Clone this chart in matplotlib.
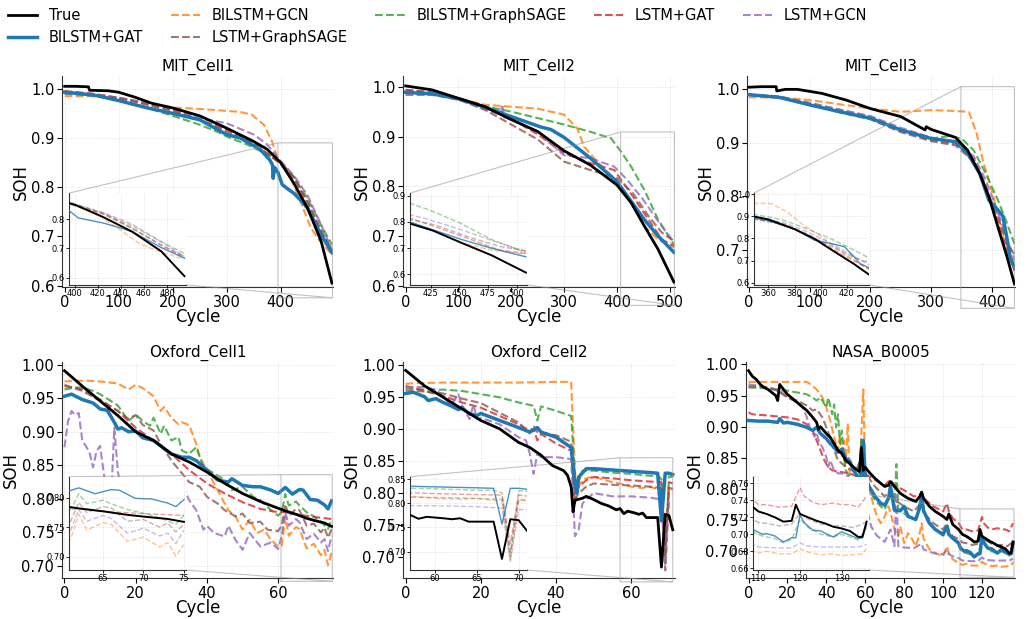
import matplotlib.pyplot as plt
from matplotlib.ticker import MultipleLocator, FormatStrFormatter

# SOH curves, (cycle, SOH) pairs
mit1_true = [(0, 1.005), (20, 1.005), (44, 1.004), (46, 0.997), (80, 0.996), (100, 0.993), (130, 0.983),
             (160, 0.971), (200, 0.961), (250, 0.945), (300, 0.92), (350, 0.893), (375, 0.877), (400, 0.85),
             (425, 0.807), (450, 0.757), (475, 0.69), (495, 0.605)]
mit1_bigat = [(0, 0.993), (30, 0.99), (60, 0.986), (100, 0.976), (150, 0.962), (200, 0.95), (250, 0.937),
              (300, 0.907), (325, 0.9), (362, 0.877), (380, 0.855), (385, 0.845), (386, 0.818), (389, 0.84),
              (395, 0.83), (403, 0.805), (415, 0.795), (425, 0.787), (440, 0.77), (450, 0.757), (475, 0.703),
              (495, 0.667)]
mit1_bigcn = [(0, 0.985), (50, 0.985), (100, 0.981), (150, 0.972), (200, 0.962), (250, 0.959), (300, 0.955),
              (325, 0.953), (347, 0.947), (360, 0.935), (369, 0.927), (384, 0.893), (394, 0.86), (412, 0.837),
              (437, 0.77), (456, 0.717), (475, 0.687), (495, 0.663)]
mit1_bisage = [(0, 0.99), (50, 0.987), (100, 0.978), (150, 0.962), (200, 0.945), (250, 0.927), (284, 0.912),
               (300, 0.903), (337, 0.887), (375, 0.867), (400, 0.85), (425, 0.82), (450, 0.777), (475, 0.723),
               (495, 0.683)]
mit1_lgat = [(0, 0.995), (50, 0.99), (100, 0.982), (150, 0.97), (200, 0.957), (250, 0.937), (300, 0.917),
             (350, 0.89), (400, 0.847), (425, 0.817), (450, 0.77), (475, 0.71), (495, 0.67)]
mit1_lgcn = [(0, 0.99), (50, 0.988), (100, 0.982), (150, 0.972), (200, 0.96), (250, 0.94), (300, 0.93),
             (350, 0.907), (375, 0.887), (400, 0.853), (425, 0.823), (450, 0.783), (475, 0.723), (495, 0.673)]
mit1_lsage = [(0, 0.995), (50, 0.99), (100, 0.981), (150, 0.968), (200, 0.955), (250, 0.937), (300, 0.913),
              (350, 0.887), (400, 0.85), (425, 0.82), (450, 0.767), (475, 0.713), (495, 0.673)]

mit2_true = [(0, 1.003), (50, 0.995), (100, 0.978), (150, 0.961), (200, 0.935), (250, 0.911), (300, 0.872),
             (350, 0.843), (400, 0.803), (427, 0.767), (452, 0.72), (478, 0.673), (508, 0.607)]
mit2_bigat = [(0, 0.99), (50, 0.987), (100, 0.977), (150, 0.96), (200, 0.941), (256, 0.92), (275, 0.915),
              (300, 0.899), (350, 0.857), (400, 0.81), (427, 0.77), (452, 0.733), (478, 0.70), (508, 0.667)]
mit2_bigcn = [(0, 0.985), (50, 0.985), (100, 0.978), (150, 0.965), (200, 0.961), (250, 0.957), (300, 0.945),
              (325, 0.917), (338, 0.88), (357, 0.857), (400, 0.81), (427, 0.767), (452, 0.72), (478, 0.693),
              (508, 0.677)]
mit2_bisage = [(0, 0.99), (50, 0.988), (100, 0.975), (150, 0.962), (200, 0.951), (250, 0.938), (300, 0.925),
               (351, 0.91), (389, 0.897), (408, 0.87), (427, 0.84), (452, 0.793), (478, 0.733), (508, 0.683)]
mit2_lgat = [(0, 0.995), (50, 0.99), (100, 0.978), (150, 0.96), (200, 0.937), (250, 0.905), (300, 0.867),
             (350, 0.847), (395, 0.833), (430, 0.78), (460, 0.733), (485, 0.693), (508, 0.68)]
mit2_lgcn = [(0, 0.985), (50, 0.985), (100, 0.975), (150, 0.955), (180, 0.945), (183, 0.966), (186, 0.94),
             (200, 0.935), (250, 0.91), (300, 0.863), (350, 0.857), (395, 0.84), (420, 0.813), (450, 0.773),
             (480, 0.727), (508, 0.687)]
mit2_lsage = [(0, 0.995), (50, 0.99), (100, 0.977), (150, 0.955), (200, 0.925), (250, 0.895), (300, 0.85),
              (350, 0.833), (400, 0.817), (430, 0.787), (460, 0.74), (485, 0.707), (508, 0.69)]

mit3_true = [(0, 1.004), (20, 1.005), (45, 1.005), (46, 0.997), (60, 1.0), (80, 1.0), (120, 0.9925),
             (160, 0.98), (200, 0.964), (250, 0.949), (290, 0.924), (292, 0.93), (300, 0.925), (320, 0.9175),
             (340, 0.91), (360, 0.886), (380, 0.842), (395, 0.799), (410, 0.742), (425, 0.686), (437, 0.636)]
mit3_bigat = [(0, 0.99), (50, 0.985), (100, 0.971), (150, 0.958), (200, 0.946), (250, 0.924), (300, 0.908),
              (320, 0.905), (340, 0.902), (360, 0.88), (380, 0.8425), (395, 0.7925), (410, 0.774),
              (418, 0.763), (425, 0.72), (430, 0.686), (437, 0.667)]
mit3_bigcn = [(0, 0.985), (50, 0.985), (100, 0.98), (150, 0.972), (200, 0.964), (250, 0.958), (300, 0.961),
              (330, 0.96), (362, 0.958), (375, 0.9175), (385, 0.8675), (400, 0.81), (415, 0.742), (430, 0.686),
              (437, 0.661)]
mit3_bisage = [(0, 0.99), (50, 0.987), (100, 0.974), (150, 0.962), (200, 0.949), (250, 0.924), (300, 0.908),
               (330, 0.9125), (350, 0.908), (370, 0.886), (390, 0.8425), (410, 0.7925), (425, 0.749),
               (437, 0.711)]
mit3_lgat = [(0, 0.99), (50, 0.985), (100, 0.972), (150, 0.958), (200, 0.945), (250, 0.922), (300, 0.905),
             (340, 0.898), (370, 0.87), (390, 0.82), (410, 0.75), (425, 0.70), (437, 0.66)]
mit3_lgcn = [(0, 0.99), (50, 0.986), (100, 0.975), (150, 0.962), (200, 0.95), (250, 0.928), (300, 0.91),
             (340, 0.9), (370, 0.875), (390, 0.83), (410, 0.77), (425, 0.72), (437, 0.68)]
mit3_lsage = [(0, 0.99), (50, 0.985), (100, 0.972), (150, 0.957), (200, 0.944), (250, 0.92), (300, 0.903),
              (340, 0.895), (370, 0.865), (390, 0.815), (410, 0.76), (425, 0.715), (437, 0.69)]

ox1_true = [(0, 0.991), (5, 0.968), (10, 0.946), (15, 0.924), (20, 0.90), (25, 0.887), (30, 0.867),
            (35, 0.855), (40, 0.84), (45, 0.823), (50, 0.808), (55, 0.796), (60, 0.786), (62, 0.782),
            (65, 0.777), (68, 0.771), (70, 0.768), (73, 0.764), (75, 0.759)]
ox1_bigat = [(0, 0.953), (2, 0.956), (5, 0.948), (8, 0.943), (10, 0.934), (12, 0.932), (14, 0.914),
             (15, 0.904), (16, 0.906), (18, 0.90), (20, 0.901), (22, 0.891), (25, 0.887), (28, 0.875),
             (30, 0.867), (33, 0.862), (35, 0.862), (37, 0.857), (40, 0.843), (43, 0.828), (46, 0.825),
             (47, 0.83), (50, 0.82), (53, 0.818), (55, 0.818), (58, 0.813), (60, 0.808), (62, 0.817),
             (64, 0.807), (66, 0.814), (67, 0.813), (69, 0.799), (71, 0.798), (73, 0.791), (74, 0.785),
             (75, 0.797)]
ox1_bigcn = [(0, 0.975), (3, 0.976), (7, 0.976), (10, 0.975), (15, 0.972), (18, 0.963), (20, 0.97),
             (22, 0.965), (25, 0.953), (27, 0.931), (28, 0.937), (30, 0.921), (32, 0.911), (33, 0.914),
             (35, 0.91), (37, 0.882), (38, 0.862), (40, 0.843), (42, 0.823), (44, 0.803), (46, 0.783),
             (48, 0.774), (50, 0.754), (52, 0.769), (54, 0.749), (56, 0.754), (58, 0.739), (60, 0.729),
             (61, 0.73), (62, 0.772), (63, 0.745), (65, 0.758), (66, 0.755), (68, 0.726), (70, 0.733),
             (72, 0.716), (73, 0.724), (74, 0.701), (75, 0.72)]
ox1_bisage = [(0, 0.963), (3, 0.966), (5, 0.966), (8, 0.961), (10, 0.956), (13, 0.946), (15, 0.939),
              (18, 0.916), (20, 0.926), (22, 0.916), (24, 0.909), (25, 0.921), (27, 0.897), (28, 0.909),
              (30, 0.887), (32, 0.892), (33, 0.872), (35, 0.867), (37, 0.877), (39, 0.847), (42, 0.838),
              (45, 0.828), (47, 0.813), (50, 0.818), (53, 0.803), (55, 0.798), (58, 0.783), (60, 0.775),
              (61, 0.78), (62, 0.807), (63, 0.79), (65, 0.796), (66, 0.79), (68, 0.78), (70, 0.774),
              (72, 0.766), (74, 0.755), (75, 0.77)]
ox1_lgat = [(0, 0.968), (5, 0.963), (10, 0.948), (15, 0.931), (20, 0.906), (25, 0.887), (30, 0.867),
            (35, 0.843), (40, 0.823), (45, 0.808), (50, 0.795), (55, 0.785), (60, 0.78), (62, 0.781),
            (65, 0.777), (70, 0.773), (75, 0.77)]
ox1_lgcn = [(0, 0.877), (1, 0.916), (2, 0.931), (3, 0.925), (4, 0.928), (5, 0.887), (7, 0.87), (8, 0.847),
            (9, 0.871), (10, 0.879), (11, 0.84), (12, 0.80), (13, 0.79), (14, 0.906), (15, 0.84), (16, 0.815),
            (20, 0.81), (25, 0.805), (30, 0.80), (34, 0.81), (35, 0.798), (37, 0.783), (39, 0.754), (40, 0.76),
            (42, 0.749), (45, 0.744), (46, 0.76), (48, 0.739), (50, 0.724), (52, 0.749), (55, 0.729),
            (58, 0.735), (60, 0.725), (61, 0.745), (62, 0.78), (63, 0.76), (65, 0.77), (66, 0.765),
            (68, 0.74), (70, 0.748), (72, 0.735), (73, 0.74), (74, 0.722), (75, 0.745)]
ox1_lsage = [(0, 0.97), (5, 0.961), (10, 0.946), (15, 0.931), (18, 0.919), (20, 0.925), (22, 0.91),
             (25, 0.902), (27, 0.882), (30, 0.857), (33, 0.838), (35, 0.825), (38, 0.818), (40, 0.803),
             (43, 0.793), (45, 0.783), (48, 0.774), (50, 0.778), (52, 0.764), (55, 0.766), (57, 0.754),
             (60, 0.752), (61, 0.76), (62, 0.792), (63, 0.775), (65, 0.785), (66, 0.783), (68, 0.76),
             (70, 0.763), (72, 0.75), (73, 0.757), (74, 0.742), (75, 0.755)]

ox2_true = [(0, 0.991), (5, 0.967), (10, 0.949), (15, 0.931), (20, 0.913), (25, 0.90), (30, 0.879),
            (33, 0.871), (36, 0.859), (39, 0.843), (42, 0.835), (43, 0.828), (44, 0.81), (44.5, 0.771),
            (45, 0.789), (47, 0.792), (48, 0.795), (50, 0.79), (52, 0.784), (54, 0.78), (56, 0.774),
            (57, 0.776), (58, 0.768), (59, 0.772), (61, 0.769), (62, 0.767), (63, 0.769), (64, 0.762),
            (67, 0.762), (68, 0.685), (69, 0.767), (70, 0.765), (71, 0.743)]
ox2_bigat = [(0, 0.955), (2, 0.957), (5, 0.95), (6, 0.944), (8, 0.947), (10, 0.941), (12, 0.936), (14, 0.93),
             (15, 0.933), (17, 0.923), (19, 0.921), (20, 0.924), (25, 0.913), (30, 0.902), (33, 0.895),
             (35, 0.902), (36, 0.895), (40, 0.887), (44, 0.871), (45, 0.815), (45.5, 0.80), (46, 0.825),
             (48, 0.838), (50, 0.838), (55, 0.836), (60, 0.834), (65, 0.832), (67, 0.831), (68, 0.757),
             (69, 0.831), (70, 0.831), (71, 0.829)]
ox2_bigcn = [(0, 0.97), (2, 0.971), (10, 0.972), (20, 0.972), (30, 0.972), (40, 0.973), (44, 0.973),
             (45, 0.835), (45.5, 0.805), (47, 0.82), (48, 0.823), (50, 0.826), (52, 0.822), (55, 0.817),
             (57, 0.815), (60, 0.81), (63, 0.808), (65, 0.81), (67, 0.806), (68, 0.804), (69, 0.68),
             (70, 0.806), (71, 0.805)]
ox2_bisage = [(0, 0.963), (5, 0.961), (10, 0.961), (15, 0.959), (20, 0.954), (25, 0.949), (30, 0.941),
              (34, 0.936), (35, 0.913), (36, 0.935), (40, 0.928), (44, 0.92), (45, 0.83), (45.5, 0.81),
              (47, 0.835), (50, 0.835), (55, 0.832), (60, 0.83), (65, 0.827), (67, 0.827), (68, 0.822),
              (69, 0.69), (70, 0.826), (71, 0.825)]
ox2_lgat = [(0, 0.967), (5, 0.959), (10, 0.951), (15, 0.941), (20, 0.933), (25, 0.92), (30, 0.907),
            (33, 0.897), (34, 0.9), (35, 0.882), (36, 0.892), (40, 0.877), (44, 0.866), (45, 0.784),
            (46, 0.81), (48, 0.82), (50, 0.825), (55, 0.823), (60, 0.82), (65, 0.818), (68, 0.817),
            (69, 0.717), (70, 0.817), (71, 0.815)]
ox2_lgcn = [(0, 0.965), (5, 0.965), (8, 0.961), (10, 0.951), (12, 0.936), (14, 0.954), (15, 0.936),
            (17, 0.915), (18, 0.938), (19, 0.915), (20, 0.917), (25, 0.907), (30, 0.887), (32, 0.882),
            (33, 0.861), (34, 0.83), (35, 0.861), (36, 0.856), (40, 0.856), (44, 0.853), (45, 0.733),
            (46, 0.743), (47, 0.784), (48, 0.79), (50, 0.80), (55, 0.795), (60, 0.795), (65, 0.793),
            (68, 0.79), (69, 0.68), (70, 0.787), (71, 0.787)]
ox2_lsage = [(0, 0.96), (5, 0.958), (10, 0.955), (15, 0.947), (20, 0.94), (25, 0.925), (30, 0.91),
             (33, 0.893), (34, 0.905), (35, 0.895), (40, 0.89), (44, 0.88), (45, 0.79), (46, 0.80),
             (48, 0.81), (50, 0.815), (55, 0.813), (60, 0.812), (65, 0.81), (68, 0.808), (69, 0.70),
             (70, 0.808), (71, 0.807)]

nasa_true = [(0, 0.99), (2, 0.981), (4, 0.976), (6, 0.968), (8, 0.963), (10, 0.96), (12, 0.955), (14, 0.95),
             (15, 0.942), (16, 0.968), (18, 0.96), (20, 0.952), (25, 0.939), (30, 0.926), (33, 0.915),
             (35, 0.907), (36, 0.896), (37, 0.90), (40, 0.889), (42, 0.883), (44, 0.873), (46, 0.862),
             (48, 0.857), (50, 0.846), (52, 0.841), (54, 0.835), (56, 0.83), (57, 0.828), (58, 0.867),
             (59, 0.83), (60, 0.835), (62, 0.827), (65, 0.817), (68, 0.809), (70, 0.804), (72, 0.806),
             (73, 0.812), (75, 0.804), (78, 0.793), (82, 0.785), (86, 0.78), (88, 0.788), (89, 0.795),
             (90, 0.785), (93, 0.772), (96, 0.764), (100, 0.756), (102, 0.751), (103, 0.76), (105, 0.743),
             (108, 0.735), (110, 0.727), (112, 0.724), (114, 0.72), (116, 0.715), (118, 0.716), (119, 0.735),
             (120, 0.724), (122, 0.72), (124, 0.716), (126, 0.713), (128, 0.709), (130, 0.707), (132, 0.704),
             (134, 0.697), (135, 0.697), (136, 0.715)]
nasa_bigat = [(0, 0.91), (5, 0.909), (10, 0.909), (15, 0.907), (16, 0.913), (18, 0.906), (20, 0.907),
              (25, 0.904), (30, 0.899), (33, 0.894), (35, 0.899), (37, 0.889), (40, 0.881), (42, 0.873),
              (44, 0.867), (46, 0.859), (48, 0.864), (50, 0.849), (52, 0.845), (54, 0.83), (56, 0.82),
              (58, 0.809), (59, 0.878), (60, 0.82), (62, 0.804), (65, 0.788), (68, 0.777), (70, 0.774),
              (72, 0.785), (73, 0.804), (75, 0.766), (78, 0.765), (80, 0.772), (82, 0.756), (86, 0.751),
              (88, 0.77), (89, 0.788), (90, 0.765), (93, 0.745), (96, 0.735), (100, 0.727), (102, 0.74),
              (103, 0.727), (105, 0.721), (108, 0.713), (109, 0.705), (111, 0.70), (112, 0.701), (114, 0.698),
              (116, 0.691), (118, 0.696), (119, 0.696), (120, 0.723), (121, 0.714), (123, 0.705), (125, 0.704),
              (127, 0.699), (128, 0.697), (130, 0.703), (132, 0.699), (134, 0.695), (135, 0.696), (136, 0.712)]
nasa_bigcn = [(0, 0.972), (10, 0.972), (20, 0.972), (30, 0.972), (32, 0.968), (35, 0.96), (38, 0.947),
              (40, 0.931), (42, 0.91), (44, 0.883), (46, 0.862), (47, 0.887), (48, 0.851), (49, 0.878),
              (50, 0.841), (51, 0.905), (52, 0.825), (54, 0.815), (56, 0.82), (57, 0.815), (59, 0.96),
              (60, 0.82), (62, 0.80), (64, 0.777), (66, 0.756), (68, 0.745), (70, 0.756), (72, 0.772),
              (74, 0.75), (75, 0.735), (77, 0.724), (78, 0.74), (80, 0.713), (82, 0.729), (84, 0.72),
              (86, 0.708), (88, 0.729), (89, 0.745), (90, 0.72), (93, 0.703), (96, 0.697), (100, 0.692),
              (102, 0.708), (103, 0.697), (105, 0.687), (108, 0.681), (110, 0.678), (112, 0.68), (115, 0.677),
              (118, 0.677), (120, 0.683), (122, 0.679), (125, 0.676), (128, 0.677), (130, 0.675), (133, 0.676),
              (135, 0.677), (136, 0.683)]
nasa_bisage = [(0, 0.963), (10, 0.962), (15, 0.958), (20, 0.958), (25, 0.955), (30, 0.952), (33, 0.947),
               (35, 0.942), (37, 0.947), (40, 0.931), (41, 0.947), (43, 0.92), (44, 0.936), (45, 0.899),
               (46, 0.92), (47, 0.873), (48, 0.894), (49, 0.851), (50, 0.83), (52, 0.82), (55, 0.809),
               (57, 0.82), (58, 0.883), (59, 0.84), (60, 0.82), (62, 0.80), (65, 0.782), (68, 0.772),
               (70, 0.767), (72, 0.785), (73, 0.804), (75, 0.767), (76, 0.84), (77, 0.767), (80, 0.761),
               (82, 0.756), (86, 0.751), (89, 0.785), (90, 0.762), (93, 0.743), (96, 0.735), (100, 0.725),
               (102, 0.738), (103, 0.727), (105, 0.72), (108, 0.713), (109, 0.702), (111, 0.698), (114, 0.695),
               (116, 0.69), (118, 0.694), (120, 0.718), (122, 0.708), (125, 0.70), (128, 0.697), (130, 0.70),
               (132, 0.697), (134, 0.693), (136, 0.708)]
nasa_lgat = [(0, 0.923), (2, 0.92), (10, 0.918), (20, 0.915), (25, 0.912), (30, 0.904), (33, 0.894),
             (35, 0.878), (37, 0.862), (39, 0.846), (41, 0.835), (43, 0.83), (48, 0.827), (52, 0.825),
             (56, 0.82), (58, 0.83), (59, 0.86), (60, 0.825), (62, 0.82), (65, 0.815), (68, 0.809),
             (70, 0.806), (72, 0.812), (73, 0.815), (75, 0.806), (80, 0.798), (85, 0.788), (88, 0.79),
             (89, 0.795), (90, 0.785), (95, 0.772), (100, 0.764), (102, 0.777), (103, 0.764), (105, 0.753),
             (108, 0.745), (110, 0.735), (112, 0.735), (115, 0.732), (118, 0.733), (120, 0.755), (121, 0.745),
             (123, 0.738), (125, 0.735), (128, 0.737), (130, 0.735), (132, 0.735), (134, 0.732), (136, 0.745)]
nasa_lgcn = [(0, 0.968), (5, 0.966), (10, 0.963), (15, 0.96), (17, 0.953), (20, 0.947), (25, 0.939),
             (28, 0.93), (30, 0.915), (32, 0.894), (34, 0.884), (35, 0.891), (36, 0.878), (38, 0.867),
             (40, 0.851), (41, 0.835), (42, 0.846), (44, 0.83), (46, 0.825), (48, 0.825), (50, 0.823),
             (55, 0.81), (60, 0.78), (63, 0.74), (66, 0.725), (70, 0.715), (73, 0.735), (75, 0.708),
             (76, 0.793), (77, 0.708), (80, 0.706), (85, 0.705), (89, 0.712), (90, 0.703), (95, 0.697),
             (100, 0.695), (102, 0.702), (103, 0.695), (105, 0.692), (108, 0.689), (110, 0.685), (115, 0.684),
             (118, 0.684), (120, 0.69), (122, 0.686), (126, 0.685), (130, 0.685), (134, 0.685), (136, 0.688)]
nasa_lsage = [(0, 0.965), (5, 0.964), (10, 0.963), (15, 0.958), (18, 0.953), (20, 0.947), (25, 0.942),
              (30, 0.934), (33, 0.926), (35, 0.928), (38, 0.915), (40, 0.899), (42, 0.883), (44, 0.862),
              (46, 0.846), (48, 0.841), (50, 0.835), (55, 0.827), (58, 0.851), (59, 0.83), (60, 0.825),
              (65, 0.804), (70, 0.788), (72, 0.795), (73, 0.804), (75, 0.783), (80, 0.772), (85, 0.764),
              (88, 0.775), (89, 0.788), (90, 0.762), (95, 0.745), (100, 0.735), (102, 0.745), (103, 0.733),
              (105, 0.724), (108, 0.72), (110, 0.714), (112, 0.713), (115, 0.71), (118, 0.712), (120, 0.725),
              (122, 0.718), (125, 0.712), (128, 0.71), (130, 0.71), (133, 0.708), (136, 0.715)]

labels = ['True', 'BILSTM+GAT', 'BILSTM+GCN', 'BILSTM+GraphSAGE', 'LSTM+GAT', 'LSTM+GCN', 'LSTM+GraphSAGE']
titles = ['MIT_Cell1', 'MIT_Cell2', 'MIT_Cell3', 'Oxford_Cell1', 'Oxford_Cell2', 'NASA_B0005']
panels = [
    [mit1_true, mit1_bigat, mit1_bigcn, mit1_bisage, mit1_lgat, mit1_lgcn, mit1_lsage],
    [mit2_true, mit2_bigat, mit2_bigcn, mit2_bisage, mit2_lgat, mit2_lgcn, mit2_lsage],
    [mit3_true, mit3_bigat, mit3_bigcn, mit3_bisage, mit3_lgat, mit3_lgcn, mit3_lsage],
    [ox1_true, ox1_bigat, ox1_bigcn, ox1_bisage, ox1_lgat, ox1_lgcn, ox1_lsage],
    [ox2_true, ox2_bigat, ox2_bigcn, ox2_bisage, ox2_lgat, ox2_lgcn, ox2_lsage],
    [nasa_true, nasa_bigat, nasa_bigcn, nasa_bisage, nasa_lgat, nasa_lgcn, nasa_lsage],
]

colors = ['black', '#1f77b4', '#ff7f0e', '#2ca02c', '#d62728', '#9467bd', '#8c564b']

# layout / axis settings per panel (pixel boxes in a 1029x619 figure)
W, H = 1029, 619
boxes = [(62, 76, 333, 287), (403, 76, 675, 287), (747, 76, 1015, 287),
         (62, 362, 333, 578), (403, 362, 675, 578), (746, 362, 1015, 578)]
xlims = [(-5, 497), (-5, 510), (-3, 438), (-0.7, 75.4), (-0.7, 71.6), (-1.3, 137)]
ylims = [(0.597, 1.026), (0.597, 1.023), (0.63, 1.025), (0.682, 1.004), (0.668, 1.004), (0.657, 1.004)]
xsteps = [100, 100, 100, 20, 20, 20]
ysteps = [0.1, 0.1, 0.1, 0.05, 0.05, 0.05]
yfmt = ['%.1f', '%.1f', '%.1f', '%.2f', '%.2f', '%.2f']
in_bounds = [[0.026, 0.01, 0.43, 0.435]] * 3 + [[0.026, 0.037, 0.43, 0.432]] * 3
in_xlims = [(395, 496), (407, 509), (349, 437), (60.8, 75.2), (57, 71), (108.7, 136.5)]
in_ylims = [(0.575, 0.89), (0.56, 0.91), (0.59, 1.005), (0.677, 0.836), (0.662, 0.855), (0.658, 0.768)]
in_xsteps = [20, 25, 20, 5, 5, 10]
in_ysteps = [0.1, 0.1, 0.1, 0.05, 0.05, 0.02]
in_yfmt = ['%.1f', '%.1f', '%.1f', '%.2f', '%.2f', '%.2f']

fig = plt.figure(figsize=(W / 100, H / 100), dpi=100)


def style_axes(a, small=False):
    for s in ['top', 'right']:
        a.spines[s].set_visible(False)
    for s in ['left', 'bottom']:
        a.spines[s].set_color('#333333')
        a.spines[s].set_linewidth(0.8)
    a.grid(True, linestyle=(0, (2, 2)), linewidth=0.5, color='#dddddd')
    a.set_axisbelow(True)
    if small:
        a.tick_params(labelsize=6, length=2, width=0.6, pad=1)
    else:
        a.tick_params(labelsize=10.5, length=3.5, width=0.8, pad=2)


handles = []
for i, series in enumerate(panels):
    x0, y0, x1, y1 = boxes[i]
    ax = fig.add_axes([x0 / W, 1 - y1 / H, (x1 - x0) / W, (y1 - y0) / H])
    style_axes(ax)
    axins = ax.inset_axes(in_bounds[i])
    style_axes(axins, small=True)

    # models first, ground truth on top
    order = [1, 2, 3, 4, 5, 6, 0]
    for k in order:
        xs, ys = zip(*series[k])
        if k == 0:
            kw_main = dict(color='black', lw=2.0, zorder=5)
            kw_in = dict(color='black', lw=1.4, zorder=5)
        elif k == 1:
            kw_main = dict(color=colors[k], lw=2.5, zorder=3)
            kw_in = dict(color=colors[k], lw=1.0, alpha=0.8, zorder=3)
        else:
            kw_main = dict(color=colors[k], lw=1.5, ls='--', alpha=0.8, zorder=2)
            kw_in = dict(color=colors[k], lw=1.0, ls='--', alpha=0.45, zorder=2)
        line, = ax.plot(xs, ys, label=labels[k], **kw_main)
        axins.plot(xs, ys, **kw_in)
        if i == 0:
            handles.append(line)

    ax.set_xlim(*xlims[i])
    ax.set_ylim(*ylims[i])
    ax.xaxis.set_major_locator(MultipleLocator(xsteps[i]))
    ax.yaxis.set_major_locator(MultipleLocator(ysteps[i]))
    ax.yaxis.set_major_formatter(FormatStrFormatter(yfmt[i]))
    ax.set_title(titles[i], fontsize=11, pad=4)
    ax.set_xlabel('Cycle', fontsize=12, labelpad=-1)
    ax.set_ylabel('SOH', fontsize=12, labelpad=1)

    axins.set_xlim(*in_xlims[i])
    axins.set_ylim(*in_ylims[i])
    axins.xaxis.set_major_locator(MultipleLocator(in_xsteps[i]))
    axins.yaxis.set_major_locator(MultipleLocator(in_ysteps[i]))
    axins.yaxis.set_major_formatter(FormatStrFormatter(in_yfmt[i]))

    ind = ax.indicate_inset_zoom(axins, edgecolor='#999999', alpha=0.6, linewidth=0.8)
    conns = ind.connectors if hasattr(ind, 'connectors') else ind[1]
    for j, c in enumerate(conns):
        c.set_visible(j in (1, 2))

# legend: True, BILSTM+GAT / BILSTM+GCN, LSTM+GraphSAGE / BILSTM+GraphSAGE / LSTM+GAT / LSTM+GCN
by_label = {h.get_label(): h for h in handles}
leg_order = ['True', 'BILSTM+GAT', 'BILSTM+GCN', 'LSTM+GraphSAGE', 'BILSTM+GraphSAGE', 'LSTM+GAT', 'LSTM+GCN']
fig.legend([by_label[n] for n in leg_order], leg_order, loc='upper left', bbox_to_anchor=(-0.005, 1.008),
           ncol=5, frameon=False, fontsize=10.5, handlelength=2.0, handletextpad=0.8,
           columnspacing=1.9, labelspacing=0.45)

fig.savefig('out.png', dpi=100)
